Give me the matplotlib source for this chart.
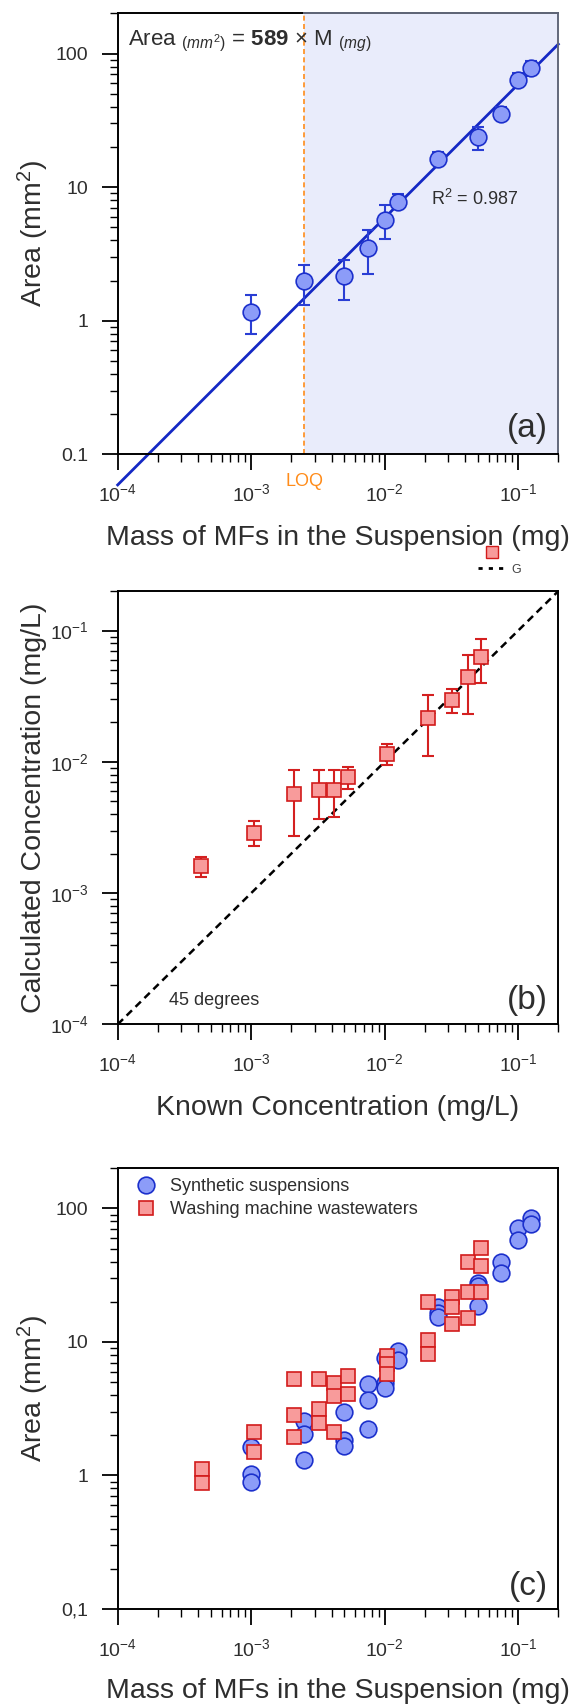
import numpy as np
import matplotlib
matplotlib.use("Agg")
import matplotlib.pyplot as plt
from matplotlib import ticker
from matplotlib.lines import Line2D

plt.rcParams["font.family"] = ["Liberation Sans", "DejaVu Sans"]
plt.rcParams["mathtext.fontset"] = "custom"
plt.rcParams["mathtext.rm"] = "Liberation Sans"
plt.rcParams["mathtext.it"] = "Liberation Sans:italic"
plt.rcParams["mathtext.bf"] = "Liberation Sans:bold"

# (a) calibration: mean area vs mass, with error bar ends
mass_a = [1e-3, 2.5e-3, 5e-3, 7.5e-3, 1e-2, 1.25e-2, 2.5e-2, 5e-2, 7.5e-2, 1e-1, 1.25e-1]
area_a = [1.16, 1.97, 2.15, 3.5, 5.7, 7.8, 16.3, 23.8, 35.5, 63, 78]
area_a_lo = [0.79, 1.30, 1.42, 2.25, 4.1, 7.0, 15.0, 19.1, 33.0, 57, 69]
area_a_hi = [1.56, 2.63, 2.83, 4.8, 7.3, 8.9, 18.5, 28.0, 39.8, 72, 88]
slope = 589
loq = 2.5e-3
r2_text = "R$^2$ = 0.987"

# (b) calculated vs known concentration
known_b = [4.2e-4, 1.05e-3, 2.1e-3, 3.2e-3, 4.2e-3, 5.3e-3, 1.05e-2, 2.1e-2, 3.2e-2, 4.2e-2, 5.3e-2]
calc_b = [1.61e-3, 2.88e-3, 5.66e-3, 6.15e-3, 6.15e-3, 7.73e-3, 1.15e-2, 2.15e-2, 2.97e-2, 4.41e-2, 6.34e-2]
calc_b_lo = [1.32e-3, 2.27e-3, 2.74e-3, 3.7e-3, 3.78e-3, 6.2e-3, 9.4e-3, 1.11e-2, 2.34e-2, 2.31e-2, 3.97e-2]
calc_b_hi = [1.87e-3, 3.52e-3, 8.6e-3, 8.6e-3, 8.6e-3, 9.16e-3, 1.36e-2, 3.22e-2, 3.6e-2, 6.5e-2, 8.65e-2]

# (c) replicate areas
synth_mass = [1e-3, 1e-3, 1e-3, 2.5e-3, 2.5e-3, 2.5e-3, 5e-3, 5e-3, 5e-3,
              7.5e-3, 7.5e-3, 7.5e-3, 1e-2, 1e-2, 1e-2, 1.25e-2, 1.25e-2,
              2.5e-2, 2.5e-2, 2.5e-2, 5e-2, 5e-2, 5e-2, 7.5e-2, 7.5e-2,
              1e-1, 1e-1, 1.25e-1, 1.25e-1]
synth_area = [1.63, 1.03, 0.90, 2.55, 2.05, 1.30, 2.97, 1.83, 1.65,
              4.85, 3.65, 2.22, 7.6, 4.9, 4.55, 8.6, 7.3,
              18.4, 16.5, 15.3, 27.5, 26.3, 18.5, 39.9, 32.9,
              72, 58, 85, 76]
wash_mass = [4.3e-4, 4.3e-4, 1.05e-3, 1.05e-3, 2.1e-3, 2.1e-3, 2.1e-3,
             3.2e-3, 3.2e-3, 3.2e-3, 4.2e-3, 4.2e-3, 4.2e-3, 5.3e-3, 5.3e-3,
             1.05e-2, 1.05e-2, 1.05e-2, 2.1e-2, 2.1e-2, 2.1e-2,
             3.2e-2, 3.2e-2, 3.2e-2, 4.2e-2, 4.2e-2, 4.2e-2, 5.3e-2, 5.3e-2, 5.3e-2]
wash_area = [1.12, 0.88, 2.12, 1.49, 5.3, 2.83, 1.94,
             5.3, 3.16, 2.48, 4.94, 3.95, 2.1, 5.55, 4.05,
             7.9, 6.85, 5.75, 19.8, 10.4, 8.15,
             21.6, 18.2, 13.6, 39.4, 23.5, 15.1, 50.6, 37.3, 23.8]

xlim = (1e-4, 0.2)
txt = "#2e2e2e"
blue_face, blue_edge = "#8c9cf8", "#1c30cc"
red_face, red_edge = "#f89b9b", "#d21b1b"


def style_axes(ax, ylim):
    ax.set_xscale("log")
    ax.set_yscale("log")
    ax.set_xlim(*xlim)
    ax.set_ylim(*ylim)
    ax.tick_params(which="major", direction="out", length=11.5, width=1.3,
                   labelsize=14, pad=9.5, labelcolor=txt, top=False, right=False)
    ax.tick_params(which="minor", direction="out", length=5.8, width=1.0,
                   top=False, right=False)
    ax.xaxis.set_minor_formatter(ticker.NullFormatter())
    ax.yaxis.set_minor_formatter(ticker.NullFormatter())
    for s in ax.spines.values():
        s.set_linewidth(1.4)


fig = plt.figure(figsize=(5.8, 17.05), dpi=100)

# ---------- (a) ----------
ax = fig.add_axes([0.2029, 0.7336, 0.7597, 0.2585])
style_axes(ax, (0.1, 200))
ax.set_yticks([0.1, 1, 10, 100])
ax.set_yticklabels(["0.1", "1", "10", "100"])
ax.axvspan(loq, xlim[1], color="#e9ecfb", zorder=0, lw=0)
ax.axvline(loq, color="#ff8c1a", lw=1.2, ls=(0, (3, 2)), zorder=1)
ax.spines["right"].set_color("#62687a")
ax.plot([loq, xlim[1]], [1, 1], transform=ax.get_xaxis_transform(),
        color="#62687a", lw=1.4, clip_on=False, zorder=5)
fit_x = np.array(xlim)
ax.plot(fit_x, slope * fit_x, color="#1428c4", lw=2.0, clip_on=False, zorder=2)
ma = np.array(area_a)
ax.errorbar(mass_a, area_a, yerr=[ma - np.array(area_a_lo), np.array(area_a_hi) - ma],
            fmt="none", ecolor="#2a3ed4", elinewidth=1.5, capsize=4, capthick=1.5, zorder=3)
ax.plot(mass_a, area_a, "o", ms=12, mfc=blue_face, mec=blue_edge, mew=1.2, zorder=4)
ax.text(0.0225, 0.9285, r"Area $_{\mathit{(mm^2)}}$ = $\mathbf{589}$ × M $_{\mathit{(mg)}}$",
        transform=ax.transAxes, fontsize=16, color=txt, va="baseline", zorder=6)
ax.text(0.711, 0.579, r2_text, transform=ax.transAxes, fontsize=13, color=txt, va="center")
ax.text(0.9755, 0.059, "(a)", transform=ax.transAxes, fontsize=24, color=txt,
        ha="right", va="center")
ax.text(loq, -0.061, "LOQ", transform=ax.get_xaxis_transform(), fontsize=13,
        color="#ff8c1a", ha="center", va="center")
ax.set_xlabel("Mass of MFs in the Suspension (mg)", fontsize=20.5, color=txt)
ax.set_ylabel("Area (mm$^2$)", fontsize=20.5, color=txt)
ax.xaxis.set_label_coords(0.5, -0.16)
ax.yaxis.set_label_coords(-0.152, 0.5)

# ---------- (b) ----------
ax = fig.add_axes([0.2029, 0.3992, 0.7597, 0.2541])
style_axes(ax, (1e-4, 0.2))
ax.plot(xlim, xlim, color="k", lw=1.8, ls=(0, (3, 2)), clip_on=False, zorder=2)
cb = np.array(calc_b)
ax.errorbar(known_b, calc_b, yerr=[cb - np.array(calc_b_lo), np.array(calc_b_hi) - cb],
            fmt="none", ecolor="#d42020", elinewidth=1.5, capsize=4, capthick=1.5, zorder=3)
ax.plot(known_b, calc_b, "s", ms=10.3, mfc=red_face, mec=red_edge, mew=1.2, zorder=4)
ax.text(0.116, 0.056, "45 degrees", transform=ax.transAxes, fontsize=13, color=txt,
        va="center")
ax.text(0.9755, 0.056, "(b)", transform=ax.transAxes, fontsize=24, color=txt,
        ha="right", va="center")
h_sq = Line2D([], [], marker="s", ls="none", ms=8.5, mfc=red_face, mec=red_edge, mew=1.0)
h_ln = Line2D([], [], color="k", lw=2.0, ls=(0, (1.5, 2.2)))
leg = ax.legend([h_sq, h_ln], ["", "G"], loc="upper left", bbox_to_anchor=(0.818, 1.10),
                frameon=False, fontsize=9, handlelength=2.2, handletextpad=0.5,
                labelspacing=0.3, borderpad=0, borderaxespad=0)
for t in leg.get_texts():
    t.set_color("#444444")
ax.set_xlabel("Known Concentration (mg/L)", fontsize=20.5, color=txt)
ax.set_ylabel("Calculated Concentration (mg/L)", fontsize=20.5, color=txt)
ax.xaxis.set_label_coords(0.5, -0.163)
ax.yaxis.set_label_coords(-0.161, 0.5)

# ---------- (c) ----------
ax = fig.add_axes([0.2029, 0.0563, 0.7597, 0.2585])
style_axes(ax, (0.1, 200))
ax.set_yticks([0.1, 1, 10, 100])
ax.set_yticklabels(["0,1", "1", "10", "100"])
ax.plot(synth_mass, synth_area, "o", ms=12, mfc=blue_face, mec=blue_edge, mew=1.2,
        label="Synthetic suspensions", zorder=3)
ax.plot(wash_mass, wash_area, "s", ms=10.5, mfc=red_face, mec=red_edge, mew=1.2,
        label="Washing machine wastewaters", zorder=4)
leg = ax.legend(loc="upper left", bbox_to_anchor=(0.044, 0.977), frameon=False,
                fontsize=13, handlelength=1.0, handletextpad=0.85, labelspacing=0.3,
                borderpad=0, borderaxespad=0)
for t in leg.get_texts():
    t.set_color(txt)
ax.text(0.9755, 0.0506, "(c)", transform=ax.transAxes, fontsize=24, color=txt,
        ha="right", va="center")
ax.set_xlabel("Mass of MFs in the Suspension (mg)", fontsize=20.5, color=txt)
ax.set_ylabel("Area (mm$^2$)", fontsize=20.5, color=txt)
ax.xaxis.set_label_coords(0.5, -0.157)
ax.yaxis.set_label_coords(-0.152, 0.5)

fig.savefig("out.png", dpi=100)
